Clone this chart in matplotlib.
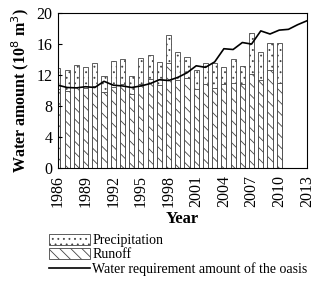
import numpy as np
import matplotlib
matplotlib.use("Agg")
import matplotlib.pyplot as plt

plt.rcParams['font.family'] = ['Liberation Serif', 'DejaVu Serif']
plt.rcParams['hatch.linewidth'] = 0.6

years = list(range(1986, 2014))
bar_years = list(range(1986, 2011))

precipitation = [12.9, 12.6, 13.3, 13.1, 13.6, 11.9, 13.8, 14.1, 11.9, 14.2,
                 14.6, 13.7, 17.2, 15.0, 14.3, 12.7, 13.6, 13.5, 13.1, 14.1,
                 13.2, 17.4, 15.0, 16.2, 16.2]
runoff = [10.2, 10.0, 10.4, 10.3, 10.6, 9.8, 10.5, 10.8, 9.5, 10.9,
          11.5, 10.7, 13.5, 11.4, 11.6, 10.2, 10.8, 10.3, 10.9, 11.0,
          10.9, 12.1, 11.4, 12.6, 11.0]
requirement = [10.7, 10.4, 10.35, 10.5, 10.4, 11.2, 10.7, 10.6, 10.4, 10.6,
               10.9, 11.4, 11.3, 11.7, 12.3, 13.2, 13.0, 13.7, 15.4, 15.3,
               16.2, 16.0, 17.7, 17.3, 17.8, 17.9, 18.5, 19.0]

fig = plt.figure(figsize=(3.2, 2.84), dpi=100)
ax = fig.add_axes([0.181, 0.408, 0.778, 0.546])

xb = np.arange(len(bar_years))
xl = np.arange(len(years))
w = 0.55
p1 = ax.bar(xb, precipitation, width=w, color='white', edgecolor='#444444',
            hatch='...', linewidth=0.6, label='Precipitation')
p2 = ax.bar(xb, runoff, width=w, color='white', edgecolor='#444444',
            hatch='\\\\\\', linewidth=0.6, label='Runoff')
ln, = ax.plot(xl, requirement, color='black', lw=1.2,
              label='Water requirement amount of the oasis')

ax.set_xlim(0, len(years) - 1)
ax.set_ylim(0, 20)
ax.set_yticks([0, 4, 8, 12, 16, 20])
ax.set_xticks(xl[::3])
ax.set_xticklabels([str(y) for y in years[::3]], rotation=90)
ax.tick_params(axis='y', direction='in', length=3, labelsize=11.5, pad=4)
ax.tick_params(axis='x', length=0, labelsize=11.5, pad=5)
for s in ax.spines.values():
    s.set_linewidth(0.8)

ax.set_xlabel('Year', fontsize=12, fontweight='bold', labelpad=3)
ax.set_ylabel('Water amount (10$^{8}$ m$^{3}$)', fontsize=11.5,
              fontweight='bold', labelpad=4)

fig.legend([p1, p2, ln], [p1.get_label(), p2.get_label(), ln.get_label()],
           loc='upper left', bbox_to_anchor=(0.13, 0.2), frameon=False,
           fontsize=10, handlelength=3.0, handleheight=0.8,
           handletextpad=0.15, labelspacing=0.05, borderpad=0)

fig.savefig('out.png', dpi=100)
